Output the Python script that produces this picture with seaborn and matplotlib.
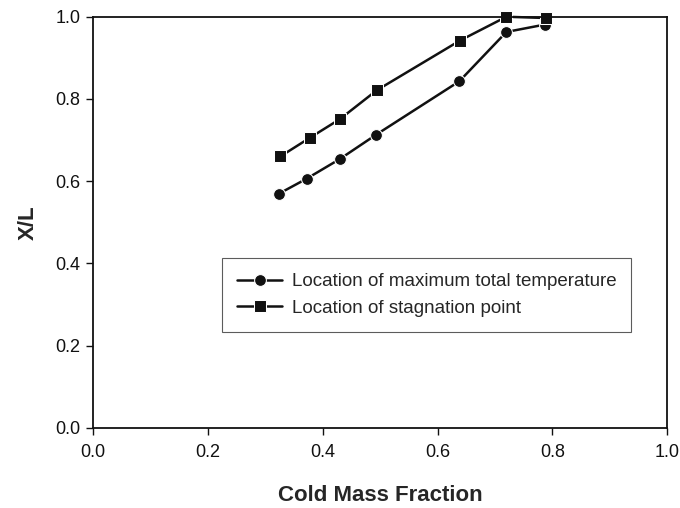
import matplotlib
matplotlib.use("Agg")
import matplotlib.pyplot as plt
import seaborn as sns
import pandas as pd

sns.set_style("ticks")
plt.rcParams['font.family'] = ['Liberation Sans', 'DejaVu Sans']

x_temp = [0.323, 0.372, 0.430, 0.493, 0.638, 0.720, 0.787]
y_temp = [0.569, 0.606, 0.654, 0.713, 0.843, 0.963, 0.981]
x_stag = [0.326, 0.377, 0.430, 0.494, 0.639, 0.720, 0.789]
y_stag = [0.660, 0.705, 0.751, 0.821, 0.942, 1.000, 0.997]
labels = ["Location of maximum total temperature", "Location of stagnation point"]

df = pd.concat([
    pd.DataFrame({"x": x_temp, "y": y_temp, "s": labels[0]}),
    pd.DataFrame({"x": x_stag, "y": y_stag, "s": labels[1]}),
])

fig = plt.figure(figsize=(6.8, 5.08), dpi=100)
ax = fig.add_axes([0.137, 0.158, 0.844, 0.809])
sns.lineplot(data=df, x="x", y="y", hue="s", style="s",
             markers={labels[0]: "o", labels[1]: "s"}, dashes=False,
             palette={labels[0]: "#111111", labels[1]: "#111111"},
             markersize=8.5, linewidth=1.8, ax=ax, sort=False, clip_on=False)

ax.set_xlim(0, 1.0)
ax.set_ylim(0, 1.0)
ticks = [0.0, 0.2, 0.4, 0.6, 0.8, 1.0]
ax.set_xticks(ticks)
ax.set_yticks(ticks)
ax.set_xticklabels([f"{t:.1f}" for t in ticks])
ax.set_yticklabels([f"{t:.1f}" for t in ticks])
ax.tick_params(direction="out", length=5, width=1, labelsize=13, colors="#111111", pad=4)
ax.tick_params(axis="x", pad=7)
for sp in ax.spines.values():
    sp.set_linewidth(1.3)
    sp.set_color("#111111")
    sp.set_visible(True)
ax.set_xlabel("Cold Mass Fraction", fontsize=16, fontweight="bold", labelpad=17)
ax.set_ylabel("X/L", fontsize=16, fontweight="bold", labelpad=12)

leg = ax.legend(loc="lower left", bbox_to_anchor=(0.225, 0.234), fontsize=13.5,
                frameon=True, fancybox=False, edgecolor="#333333",
                handlelength=2.4, handletextpad=0.5, borderpad=0.8, labelspacing=0.5,
                borderaxespad=0)
leg.get_frame().set_linewidth(0.8)

fig.savefig("out.png", dpi=100)
